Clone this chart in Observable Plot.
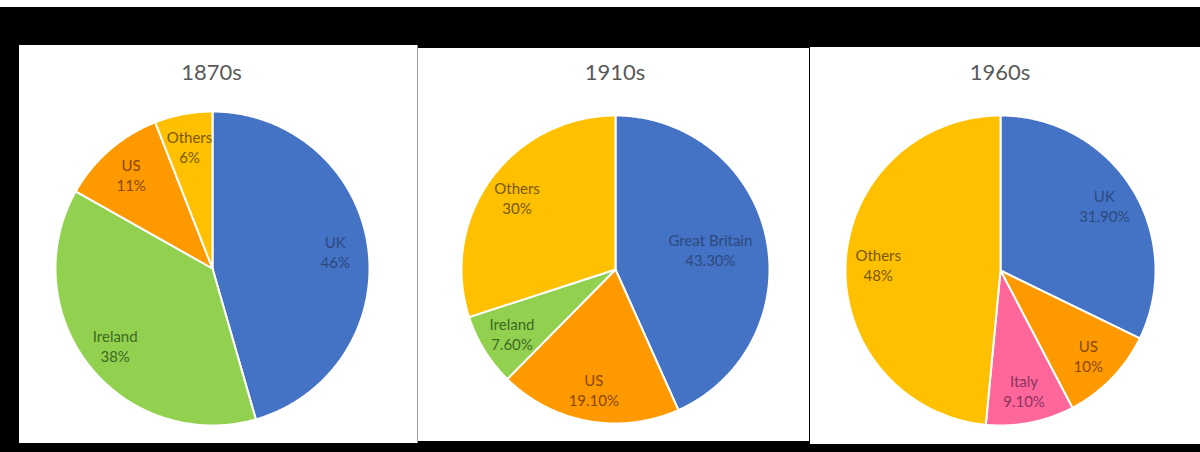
<!DOCTYPE html>
<html>
<head>
<meta charset="utf-8">
<script src="https://cdn.jsdelivr.net/npm/d3@7"></script>
<script src="https://cdn.jsdelivr.net/npm/@observablehq/plot@0.6"></script>
<style>
  html, body { margin: 0; padding: 0; }
  body { width: 1200px; height: 452px; background: #000; position: relative; overflow: hidden; font-family: Lato, "Open Sans", sans-serif; }
  .strip { position: absolute; left: 0; top: 0; width: 1200px; height: 7px; background: #fff; }
  .panel { position: absolute; background: #fff; }
  .title { position: absolute; width: 200px; text-align: center; font-size: 22px; line-height: 22px; color: #595959; }
  .pie { position: absolute; }
</style>
</head>
<body>
<div class="strip"></div>
<div id="root"></div>
<script>
// ---- data ----
const periods = ["1870s", "1910s", "1960s"];

const names1870 = ["UK", "Ireland", "US", "Others"];
const values1870 = [46, 38, 11, 6];
const labels1870 = ["46%", "38%", "11%", "6%"];

const names1910 = ["Great Britain", "US", "Ireland", "Others"];
const values1910 = [43.3, 19.1, 7.6, 30];
const labels1910 = ["43.30%", "19.10%", "7.60%", "30%"];

const names1960 = ["UK", "US", "Italy", "Others"];
const values1960 = [31.9, 10, 9.1, 48];
const labels1960 = ["31.90%", "10%", "9.10%", "48%"];

// ---- styles ----
const sliceColor = {"UK": "#4472C4", "Great Britain": "#4472C4", "Ireland": "#92D050", "US": "#FF9900", "Others": "#FFC000", "Italy": "#FF6699"};
const textColor = {"UK": "#2D4A7E", "Great Britain": "#2D4A7E", "Ireland": "#3E6A20", "US": "#884800", "Others": "#785800", "Italy": "#8A3560"};

// ---- layout ----
const panels = [
  {left: 19, top: 45, width: 398, height: 398, cx: 211.5, cy: 268.3, r: 157},
  {left: 418, top: 48, width: 391, height: 393, cx: 615, cy: 269.2, r: 154},
  {left: 810, top: 47, width: 390, height: 397, cx: 1000, cy: 270, r: 155}
];
const series = [
  [names1870, values1870, labels1870],
  [names1910, values1910, labels1910],
  [names1960, values1960, labels1960]
];

const root = document.getElementById("root");
const m = 3;

periods.forEach((period, i) => {
  const P = panels[i];
  const [names, values, labels] = series[i];
  const panel = document.createElement("div");
  panel.className = "panel";
  Object.assign(panel.style, {left: P.left + "px", top: P.top + "px", width: P.width + "px", height: P.height + "px"});
  if (i === 0) panel.style.borderRight = "1px solid #9a9a9a";
  root.appendChild(panel);

  const title = document.createElement("div");
  title.className = "title";
  title.textContent = period;
  Object.assign(title.style, {left: (P.cx - 100) + "px", top: "61px"});
  root.appendChild(title);

  const total = d3.sum(values);
  const slices = [];
  const labelRows = [];
  let cum = 0;
  names.forEach((name, j) => {
    const a0 = cum / total * 2 * Math.PI;
    cum += values[j];
    const a1 = cum / total * 2 * Math.PI;
    slices.push({name, x: 0, y: 0});
    const n = Math.max(2, Math.ceil((a1 - a0) / (Math.PI / 360)));
    for (let k = 0; k <= n; k++) {
      const a = a0 + (a1 - a0) * k / n;
      slices.push({name, x: Math.sin(a), y: Math.cos(a)});
    }
    slices.push({name, x: 0, y: 0});
    const am = (a0 + a1) / 2;
    const lr = name.length > 10 ? 0.63 : 0.79;
    labelRows.push({name, text: name + "\n" + labels[j], x: lr * Math.sin(am), y: lr * Math.cos(am)});
  });

  const size = 2 * P.r + 2 * m;
  const svg = Plot.plot({
    width: size,
    height: size,
    margin: m,
    x: {domain: [-1, 1], axis: null},
    y: {domain: [-1, 1], axis: null},
    color: {type: "identity"},
    style: {background: "transparent", overflow: "visible"},
    marks: [
      Plot.line(slices, {x: "x", y: "y", z: "name", fill: d => sliceColor[d.name], stroke: "#fff", strokeWidth: 2, curve: "linear", strokeLinejoin: "round"}),
      Plot.text(labelRows, {x: "x", y: "y", text: "text", fill: d => textColor[d.name], fontSize: 15, fontFamily: "Lato", lineHeight: 1.33})
    ]
  });
  svg.classList.add("pie");
  Object.assign(svg.style, {left: (P.cx - P.r - m) + "px", top: (P.cy - P.r - m) + "px"});
  root.appendChild(svg);
});
</script>
</body>
</html>
